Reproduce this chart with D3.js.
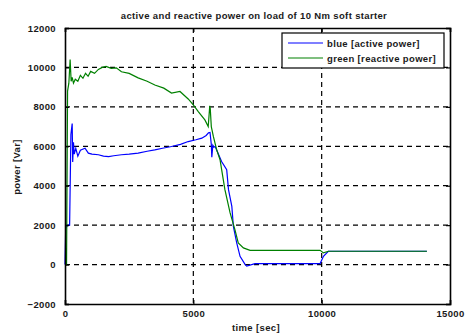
<!DOCTYPE html>
<html>
<head>
<meta charset="utf-8">
<script src="https://cdn.jsdelivr.net/npm/d3@7"></script>
<style>
  body { margin: 0; background: #fff; }
  text { font-family: "Liberation Sans", Arial, sans-serif; fill: #1a1a1a; letter-spacing: 0.35px; }
</style>
</head>
<body>
<svg id="chart" width="465" height="336"></svg>
<script>
// values (time in sec, power in Var)
var activeTime  = [0, 30, 60, 100, 180, 230, 280, 300, 330, 360, 420, 500, 600, 780, 910, 1050, 1300, 1500, 1700, 1900, 2200, 2500, 2850, 3200, 3500, 3800, 4150, 4500, 4800, 5100, 5330, 5500, 5590, 5650, 5700, 5720, 5760, 5800, 5850, 6100, 6300, 6370, 6500, 6560, 6690, 6820, 7020, 7080, 7400, 9940, 10070, 10260, 12300, 14100];
var activeValue = [0, 2000, 1900, 2000, 2000, 6600, 7150, 5200, 6200, 5600, 5900, 5500, 5800, 5900, 5650, 5600, 5570, 5500, 5480, 5520, 5570, 5600, 5650, 5750, 5820, 5900, 5990, 6100, 6240, 6330, 6410, 6550, 6680, 6700, 6100, 5450, 6050, 5950, 5990, 5230, 4810, 3800, 2950, 1940, 1100, 420, 0, -80, 50, 50, 420, 675, 675, 675];

var reactiveTime  = [0, 60, 100, 150, 200, 240, 280, 330, 400, 500, 600, 700, 800, 900, 1000, 1150, 1300, 1450, 1600, 1800, 2000, 2200, 2500, 2850, 3200, 3500, 3850, 4150, 4480, 4800, 5000, 5200, 5450, 5580, 5640, 5660, 5700, 5780, 5910, 6040, 6230, 6430, 6620, 6750, 6950, 7210, 9940, 10070, 10260, 12300, 14100];
var reactiveValue = [0, 0, 8800, 9200, 10400, 9300, 9500, 9200, 9400, 9300, 9600, 9450, 9700, 9550, 9800, 9700, 9900, 10000, 10050, 9950, 9980, 9780, 9700, 9470, 9300, 9110, 8950, 8700, 8780, 8400, 8100, 7750, 7340, 7000, 8050, 7900, 7000, 6500, 5820, 5320, 3800, 2630, 1770, 1100, 845, 725, 725, 590, 675, 675, 675];

var xTicks = [0, 5000, 10000, 15000];
var yTicks = [-2000, 0, 2000, 4000, 6000, 8000, 10000, 12000];

var seriesNames = ['blue [active power]', 'green [reactive power]'];
var seriesColors = ['#0000ff', '#008000'];

var svg = d3.select('#chart');
var plotLeft = 65, plotRight = 450, plotTop = 28, plotBottom = 304;
var font = '"Liberation Sans", Arial, sans-serif';

var xScale = d3.scaleLinear().domain([0, 15000]).range([plotLeft, plotRight]);
var yScale = d3.scaleLinear().domain([-2000, 12000]).range([plotBottom, plotTop]);

// grid
svg.append('g').selectAll('line')
  .data(xTicks.slice(1, -1))
  .enter().append('line')
  .attr('x1', function(d) { return xScale(d); })
  .attr('x2', function(d) { return xScale(d); })
  .attr('y1', plotTop).attr('y2', plotBottom)
  .attr('stroke', '#000').attr('stroke-width', 1.2).attr('stroke-dasharray', '5,4');
svg.append('g').selectAll('line')
  .data(yTicks.slice(1, -1))
  .enter().append('line')
  .attr('x1', plotLeft).attr('x2', plotRight)
  .attr('y1', function(d) { return yScale(d); })
  .attr('y2', function(d) { return yScale(d); })
  .attr('stroke', '#000').attr('stroke-width', 1.2).attr('stroke-dasharray', '5,4');

// lines
var line = d3.line()
  .x(function(d) { return xScale(d[0]); })
  .y(function(d) { return yScale(d[1]); });

svg.append('path')
  .datum(d3.zip(activeTime, activeValue))
  .attr('d', line).attr('fill', 'none')
  .attr('stroke', seriesColors[0]).attr('stroke-width', 1.2);
svg.append('path')
  .datum(d3.zip(reactiveTime, reactiveValue))
  .attr('d', line).attr('fill', 'none')
  .attr('stroke', seriesColors[1]).attr('stroke-width', 1.2);

// axes (ticks inward, matlab style)
svg.append('g').attr('transform', 'translate(0,' + plotBottom + ')')
  .call(d3.axisBottom(xScale).tickValues(xTicks).tickSize(-4).tickPadding(6).tickFormat(d3.format('d')));
svg.append('g').attr('transform', 'translate(' + plotLeft + ',0)')
  .call(d3.axisLeft(yScale).tickValues(yTicks).tickSize(-4).tickPadding(9).tickFormat(d3.format('d')));
svg.append('g').attr('transform', 'translate(0,' + plotTop + ')')
  .call(d3.axisTop(xScale).tickValues(xTicks).tickSize(-4).tickFormat(''));
svg.append('g').attr('transform', 'translate(' + plotRight + ',0)')
  .call(d3.axisRight(yScale).tickValues(yTicks).tickSize(-4).tickFormat(''));
svg.selectAll('.domain').attr('stroke', '#000').attr('stroke-width', 1.6);
svg.selectAll('.tick line').attr('stroke', '#000').attr('stroke-width', 1.2);
svg.selectAll('.tick text').style('font-size', '9.5px').style('font-weight', 'bold').style('font-family', font);

// titles
svg.append('text').attr('x', 254).attr('y', 19).attr('text-anchor', 'middle')
  .style('font-size', '9.5px').style('font-weight', 'bold')
  .text('active and reactive power on load of 10 Nm soft starter');
svg.append('text').attr('x', 256).attr('y', 331).attr('text-anchor', 'middle')
  .style('font-size', '9.5px').style('font-weight', 'bold').text('time [sec]');
svg.append('text').attr('transform', 'translate(20,167) rotate(-90)').attr('text-anchor', 'middle')
  .style('font-size', '9.5px').style('font-weight', 'bold').text('power [Var]');

// legend
var legend = svg.append('g');
legend.append('rect').attr('x', 282).attr('y', 33).attr('width', 162).attr('height', 35)
  .attr('fill', '#fff').attr('stroke', '#000').attr('stroke-width', 1.2);
seriesNames.forEach(function(name, i) {
  var yy = 43 + i * 15;
  legend.append('line').attr('x1', 288).attr('x2', 323).attr('y1', yy).attr('y2', yy)
    .attr('stroke', seriesColors[i]).attr('stroke-width', 1.2);
  legend.append('text').attr('x', 327).attr('y', yy + 3.5)
    .style('font-size', '9.5px').style('font-weight', 'bold').text(name);
});
</script>
</body>
</html>
